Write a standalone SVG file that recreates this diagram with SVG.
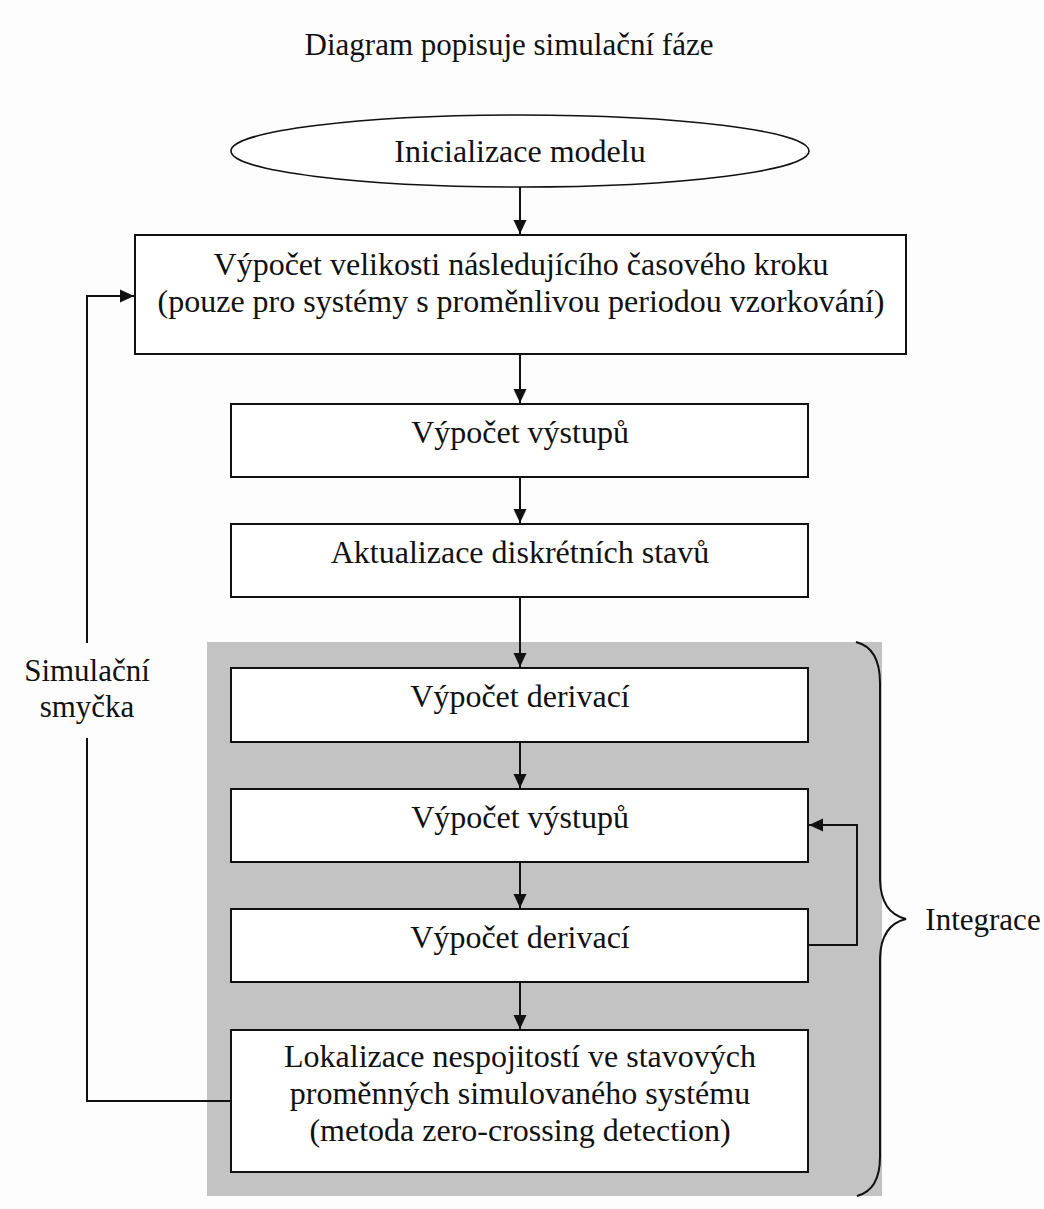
<svg xmlns="http://www.w3.org/2000/svg" width="1044" height="1209" viewBox="0 0 1044 1209">
<style>
text{font-family:"Liberation Serif","Times New Roman",serif;font-size:32px;fill:#111;text-anchor:middle}
.side{font-size:31px}
.box{fill:#fff;stroke:#111;stroke-width:2}
.ln{fill:none;stroke:#111;stroke-width:2}
</style>
<defs>
<marker id="ah" viewBox="0 0 14 14" refX="14" refY="7" markerWidth="14" markerHeight="14" markerUnits="userSpaceOnUse" orient="auto">
<path d="M0,0.5 L14,7 L0,13.5 Z" fill="#111"/>
</marker>
</defs>
<rect width="1044" height="1209" fill="#fdfdfd"/>
<text class="side" x="509" y="55">Diagram popisuje simulační fáze</text>
<rect id="integration-area" x="207" y="642" width="675" height="554" fill="#c3c3c3"/>
<g id="connectors">
<path class="ln" d="M520,187 L520,234" marker-end="url(#ah)"/>
<path class="ln" d="M520,354 L520,403" marker-end="url(#ah)"/>
<path class="ln" d="M520,477 L520,523" marker-end="url(#ah)"/>
<path class="ln" d="M520,597 L520,667" marker-end="url(#ah)"/>
<path class="ln" d="M520,742 L520,788" marker-end="url(#ah)"/>
<path class="ln" d="M520,862 L520,908" marker-end="url(#ah)"/>
<path class="ln" d="M520,982 L520,1029" marker-end="url(#ah)"/>
<path class="ln" d="M808,945 L857,945 L857,825 L809,825" marker-end="url(#ah)"/>
<path class="ln" d="M231,1101 L87,1101 L87,738"/>
<path class="ln" d="M87,643 L87,296 L134,296" marker-end="url(#ah)"/>
</g>
<g id="init">
<ellipse cx="520" cy="151" rx="289" ry="36" fill="#fff" stroke="#111" stroke-width="1.6"/>
<text x="520" y="162">Inicializace modelu</text>
</g>
<g id="step-size">
<rect class="box" x="135" y="235" width="771" height="119"/>
<text x="521" y="275">Výpočet velikosti následujícího časového kroku</text>
<text x="521" y="312">(pouze pro systémy s proměnlivou periodou vzorkování)</text>
</g>
<g id="outputs-1">
<rect class="box" x="231" y="404" width="577" height="73"/>
<text x="520" y="443">Výpočet výstupů</text>
</g>
<g id="discrete">
<rect class="box" x="231" y="524" width="577" height="73"/>
<text x="520" y="563">Aktualizace diskrétních stavů</text>
</g>
<g id="deriv-1">
<rect class="box" x="231" y="668" width="577" height="74"/>
<text x="520" y="707">Výpočet derivací</text>
</g>
<g id="outputs-2">
<rect class="box" x="231" y="789" width="577" height="73"/>
<text x="520" y="828">Výpočet výstupů</text>
</g>
<g id="deriv-2">
<rect class="box" x="231" y="909" width="577" height="73"/>
<text x="520" y="948">Výpočet derivací</text>
</g>
<g id="zero-crossing">
<rect class="box" x="231" y="1030" width="577" height="142"/>
<text x="520" y="1067">Lokalizace nespojitostí ve stavových</text>
<text x="520" y="1104">proměnných simulovaného systému</text>
<text x="520" y="1141">(metoda zero-crossing detection)</text>
</g>
<g id="loop-label">
<text class="side" x="87" y="681">Simulační</text>
<text class="side" x="87" y="717">smyčka</text>
</g>
<g id="integrace">
<path class="ln" stroke-width="1.6" d="M856,642 Q880,648 880,683 L880,880 Q881,913 906,919 Q881,925 880,958 L880,1157 Q880,1190 857,1196"/>
<text class="side" x="983" y="930">Integrace</text>
</g>
</svg>
